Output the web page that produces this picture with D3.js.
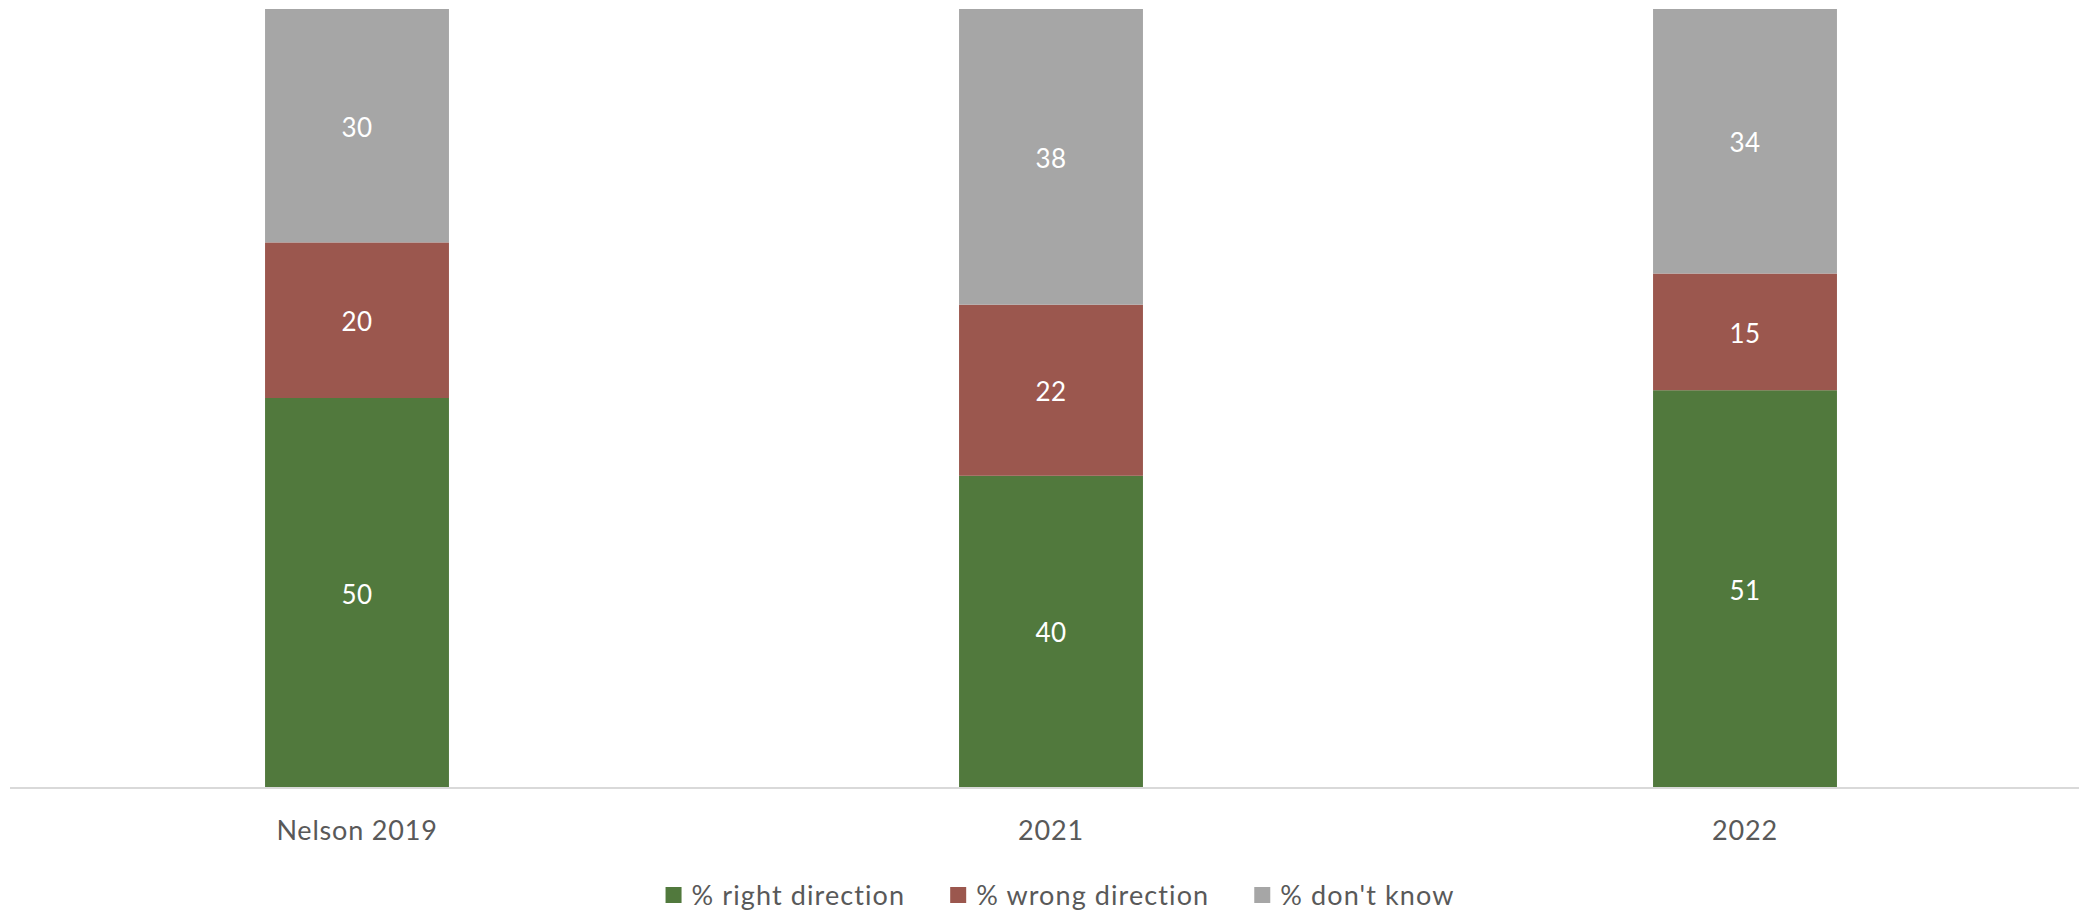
<!DOCTYPE html>
<html>
<head>
<meta charset="utf-8">
<script src="https://cdn.jsdelivr.net/npm/d3@7"></script>
<style>
  html, body { margin: 0; padding: 0; background: #ffffff; }
  svg { display: block; }
  text { font-family: Lato, "Open Sans", sans-serif; }
</style>
</head>
<body>
<svg id="chart" width="2079" height="914"></svg>
<script>
// Survey waves (x categories)
const categories = ["Nelson 2019", "2021", "2022"];

// Stacked series, bottom to top (percentages)
const seriesNames = ["% right direction", "% wrong direction", "% don't know"];
const rightDirection = [50, 40, 51];
const wrongDirection = [20, 22, 15];
const dontKnow = [30, 38, 34];

const seriesColors = ["#51793d", "#9b574e", "#a6a6a6"];

const W = 2079, H = 914;
const svg = d3.select("#chart");

const rows = categories.map((c, i) => ({
  category: c,
  right: rightDirection[i],
  wrong: wrongDirection[i],
  dk: dontKnow[i]
}));
const keys = ["right", "wrong", "dk"];
const stacked = d3.stack().keys(keys)(rows);

const x = d3.scaleBand()
  .domain(categories)
  .range([10, 2092])
  .paddingInner(0.735)
  .paddingOuter(0.3675);

const y = d3.scaleLinear().domain([0, 100]).range([787, 9]);

const color = d3.scaleOrdinal().domain(keys).range(seriesColors);

// Stacked bar segments
const layers = svg.append("g").selectAll("g")
  .data(stacked)
  .join("g")
  .attr("fill", d => color(d.key));

layers.selectAll("rect")
  .data(d => d)
  .join("rect")
  .attr("x", d => x(d.data.category))
  .attr("width", x.bandwidth())
  .attr("y", d => y(d[1]))
  .attr("height", d => y(d[0]) - y(d[1]));

// Value labels centred in each segment
layers.selectAll("text")
  .data(d => d.map(v => ({ v, key: d.key })))
  .join("text")
  .attr("x", d => x(d.v.data.category) + x.bandwidth() / 2)
  .attr("y", d => (y(d.v[0]) + y(d.v[1])) / 2 + 11)
  .attr("text-anchor", "middle")
  .attr("fill", "#ffffff")
  .attr("font-size", 26)
  .attr("letter-spacing", 0.3)
  .text(d => d.v[1] - d.v[0]);

// Category axis
const xAxis = svg.append("g")
  .attr("transform", "translate(0,788)")
  .call(d3.axisBottom(x).tickSize(0).tickPadding(0));
xAxis.select(".domain").remove();
xAxis.append("line")
  .attr("x1", 10).attr("x2", W)
  .attr("y1", 0).attr("y2", 0)
  .attr("stroke", "#d9d9d9")
  .attr("stroke-width", 2);
xAxis.selectAll(".tick text")
  .attr("y", 52)
  .attr("dy", 0)
  .attr("font-size", 27)
  .attr("letter-spacing", 0.8)
  .attr("font-family", "Lato, 'Open Sans', sans-serif")
  .attr("fill", "#595959");

// Legend, centred below the axis
const legend = svg.append("g");
const items = legend.selectAll("g")
  .data(seriesNames)
  .join("g");
items.append("rect")
  .attr("width", 16).attr("height", 16)
  .attr("y", 887)
  .attr("fill", (d, i) => seriesColors[i]);
items.append("text")
  .attr("x", 26)
  .attr("y", 905)
  .attr("font-size", 27)
  .attr("letter-spacing", 1.1)
  .attr("fill", "#595959")
  .text(d => d);

const gap = 45;
let widths = [];
items.each(function () { widths.push(this.getBBox().width); });
const total = d3.sum(widths) + gap * (widths.length - 1);
let cx = 1060 - total / 2;
items.attr("transform", (d, i) => {
  const t = `translate(${cx},0)`;
  cx += widths[i] + gap;
  return t;
});
</script>
</body>
</html>
